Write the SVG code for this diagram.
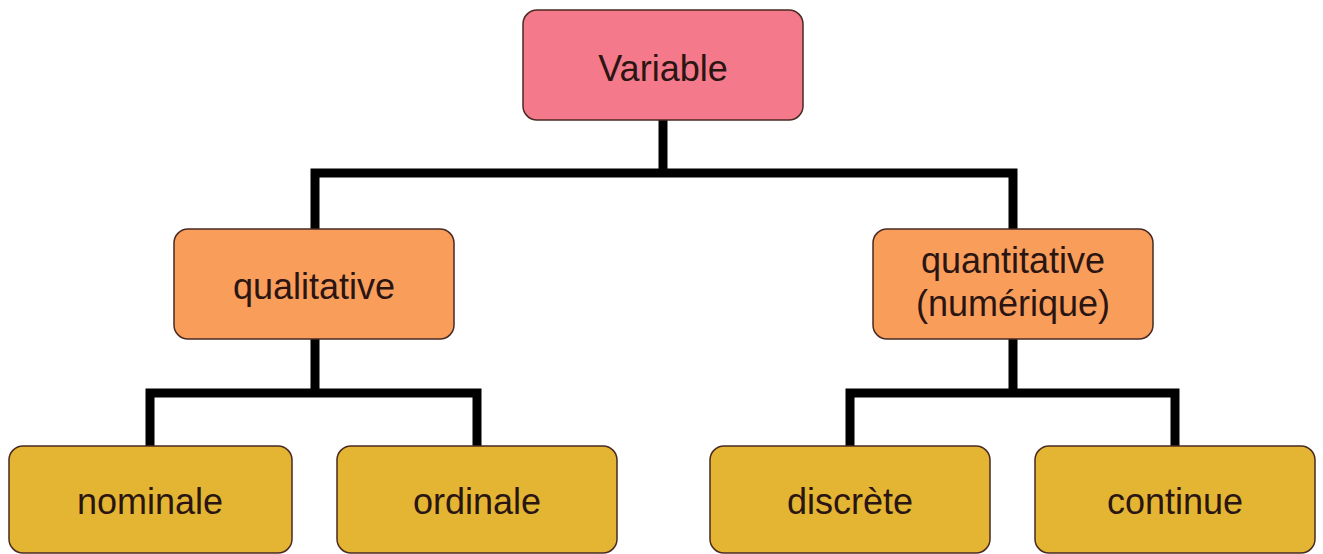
<svg xmlns="http://www.w3.org/2000/svg" width="1323" height="554" viewBox="0 0 1323 554">
<style>
.box{stroke:#4a2a22;stroke-width:1.5}
.pink{fill:#F47A8B}
.orange{fill:#F99D5B}
.gold{fill:#E3B533}
.lbl{font-family:"Liberation Sans",Arial,sans-serif;font-size:36px;fill:#2a1512;text-anchor:middle}
.conn{fill:none;stroke:#000;stroke-width:9;stroke-linejoin:miter;stroke-linecap:butt}
</style>
<rect width="1323" height="554" fill="#fff"/>
<g id="connectors">
<path class="conn" d="M663 120 V173 M315 229 V173 H1013 V229"/>
<path class="conn" d="M315 339 V393 M150 446 V393 H477 V446"/>
<path class="conn" d="M1013 339 V393 M850 446 V393 H1175 V446"/>
</g>
<g id="variable">
<rect class="box pink" x="523" y="10" width="280" height="110" rx="14"/>
<text class="lbl" x="663" y="81">Variable</text>
</g>
<g id="qualitative">
<rect class="box orange" x="174" y="229" width="280" height="110" rx="14"/>
<text class="lbl" x="314" y="299">qualitative</text>
</g>
<g id="quantitative">
<rect class="box orange" x="873" y="229" width="280" height="110" rx="14"/>
<text class="lbl" x="1013" y="273">quantitative</text>
<text class="lbl" x="1013" y="316">(numérique)</text>
</g>
<g id="nominale">
<rect class="box gold" x="9" y="446" width="283" height="107" rx="14"/>
<text class="lbl" x="150" y="514">nominale</text>
</g>
<g id="ordinale">
<rect class="box gold" x="337" y="446" width="280" height="107" rx="14"/>
<text class="lbl" x="477" y="514">ordinale</text>
</g>
<g id="discrete">
<rect class="box gold" x="710" y="446" width="280" height="107" rx="14"/>
<text class="lbl" x="850" y="514">discrète</text>
</g>
<g id="continue">
<rect class="box gold" x="1035" y="446" width="280" height="107" rx="14"/>
<text class="lbl" x="1175" y="514">continue</text>
</g>
</svg>
